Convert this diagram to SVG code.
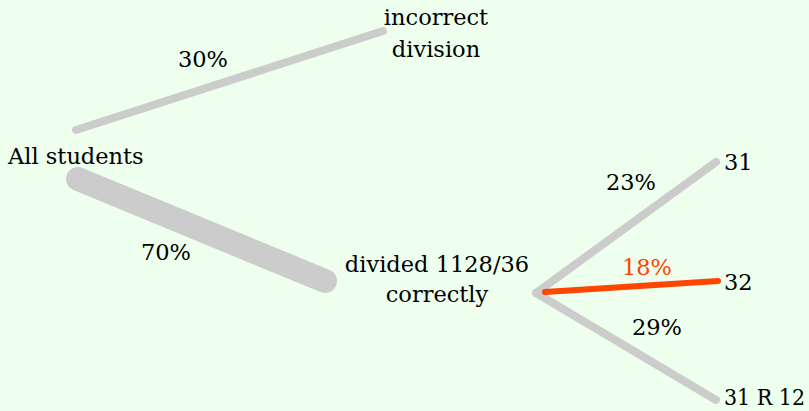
<svg xmlns="http://www.w3.org/2000/svg" width="809" height="411" viewBox="0 0 809 411">
<style>
.e{fill:none;stroke:#cccccc;stroke-linecap:round}
</style>
<rect width="809" height="411" fill="#eeffee"/>
<g font-family="DejaVu Serif, Liberation Serif, serif" font-size="22.5" fill="#000">
<g id="connectors">
<line class="e" x1="76" y1="130" x2="383" y2="31" stroke-width="8"/>
<line class="e" x1="78" y1="179" x2="325" y2="281" stroke-width="24"/>
<line class="e" x1="536" y1="293" x2="716" y2="162" stroke-width="8"/>
<line class="e" x1="536" y1="293" x2="716" y2="400" stroke-width="8"/>
<line x1="545" y1="292" x2="718" y2="281" stroke="#ff4500" stroke-width="6" stroke-linecap="round"/>
<text text-anchor="middle" x="203" y="67">30%</text>
<text text-anchor="middle" x="166" y="260">70%</text>
<text text-anchor="middle" x="631" y="190">23%</text>
<text text-anchor="middle" x="647" y="275" fill="#ff4500">18%</text>
<text text-anchor="middle" x="657" y="335">29%</text>
</g>
<g id="all"><text x="8" y="164">All students</text></g>
<g id="incorrect"><text text-anchor="middle" x="436" y="25">incorrect</text><text text-anchor="middle" x="436" y="57">division</text></g>
<g id="correct"><text text-anchor="middle" x="437" y="272">divided 1128/36</text><text text-anchor="middle" x="437" y="302">correctly</text></g>
<g id="n31"><text x="724" y="170">31</text></g>
<g id="n32"><text x="724" y="290">32</text></g>
<g id="n31r12"><text x="724" y="405" textLength="81" lengthAdjust="spacingAndGlyphs">31 R 12</text></g>
</g>
</svg>
